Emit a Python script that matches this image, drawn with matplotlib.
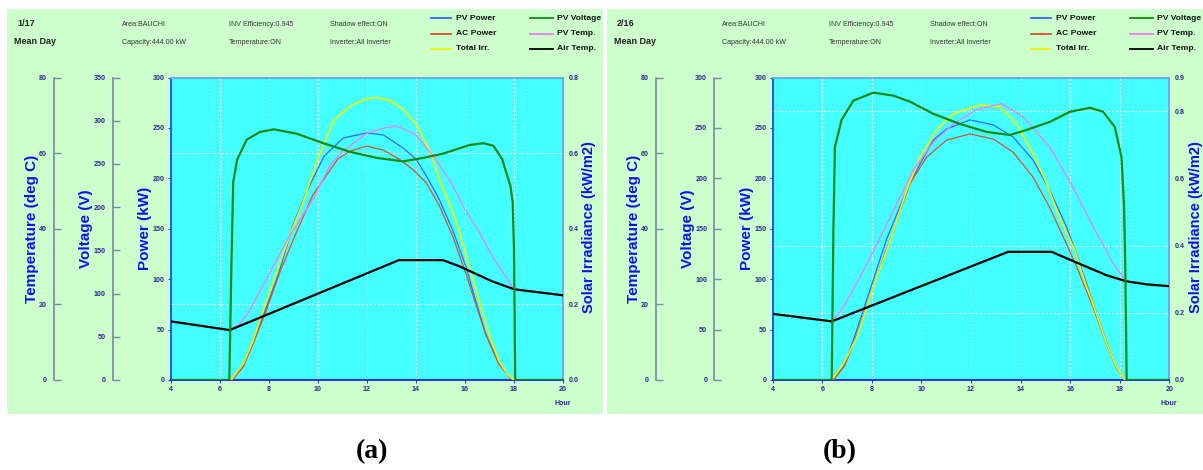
import numpy as np
import matplotlib
matplotlib.use('Agg')
import matplotlib.pyplot as plt
from matplotlib import font_manager as fm
from matplotlib.patches import Rectangle
from matplotlib.lines import Line2D

# ---------------- data ----------------
series_names = ["PV Power", "AC Power", "Total Irr.", "PV Voltage", "PV Temp.", "Air Temp."]
x_ticks = [4, 6, 8, 10, 12, 14, 16, 18, 20]

# panel (a) 1/17
date_a = "1/17"
hours_pv_a = [6.45, 6.95, 7.35, 7.8, 8.4, 8.97, 9.5, 10.25, 11.03, 11.99, 12.67, 13.48, 14.0, 14.41, 14.95, 15.49, 16.03, 16.43, 16.84, 17.38, 17.92]
pv_power_a = [0, 14, 37, 66, 106, 153, 185, 222, 240, 245, 243, 230, 219, 203, 179, 149, 113, 79, 46, 16, 0]
hours_ac_a = [6.5, 6.95, 7.35, 7.89, 8.43, 9.11, 9.78, 10.8, 11.31, 11.99, 12.67, 13.32, 13.86, 14.41, 14.95, 15.49, 16.03, 16.43, 16.84, 17.38, 17.92]
ac_power_a = [0, 13, 36, 69, 106, 146, 183, 219, 227, 232, 228, 219, 209, 196, 173, 143, 106, 76, 46, 16, 0]
hours_irr_a = [6.45, 6.95, 7.35, 7.76, 8.30, 8.84, 9.38, 9.99, 10.63, 11.31, 11.99, 12.39, 12.94, 13.48, 14.03, 14.6, 14.95, 15.35, 15.76, 16.16, 16.57, 16.97, 17.38, 17.72, 17.99]
irr_a = [0, 0.043, 0.104, 0.184, 0.283, 0.381, 0.469, 0.584, 0.685, 0.725, 0.744, 0.747, 0.739, 0.715, 0.675, 0.60, 0.531, 0.469, 0.395, 0.301, 0.211, 0.123, 0.051, 0.016, 0]
hours_volt_a = [4.0, 6.38, 6.47, 6.54, 6.7, 7.09, 7.63, 8.2, 9.13, 10.22, 11.31, 12.39, 13.48, 14.3, 15.12, 16.2, 16.75, 17.16, 17.51, 17.85, 17.95, 18.0, 18.05, 20.0]
volt_a = [0, 0, 139, 229, 255, 278, 287, 290, 285, 274, 264, 257, 253, 257, 262, 272, 274, 271, 256, 225, 205, 150, 0, 0]
hours_pvt_a = [6.4, 6.81, 7.22, 8.03, 8.84, 9.78, 10.5, 11.0, 12.0, 12.6, 13.2, 14.0, 14.8, 15.5, 16.0, 16.6, 17.1, 17.65, 18.0]
pv_temp_a = [13.2, 14.9, 18.4, 28.3, 38.1, 47.7, 56.8, 60.5, 65.3, 66.5, 67.2, 64.8, 58.4, 51.5, 45.1, 38.9, 32.8, 27.5, 24.0]
hours_air_a = [4.0, 6.4, 13.3, 15.1, 15.76, 17.11, 18.0, 19.0, 20.0]
air_temp_a = [15.5, 13.2, 31.7, 31.7, 30.1, 26.1, 24.0, 23.2, 22.4]

# panel (b) 2/16
date_b = "2/16"
hours_pv_b = [6.45, 6.9, 7.4, 7.8, 8.2, 8.6, 9.4, 9.94, 10.48, 11.02, 11.96, 12.9, 13.7, 14.51, 15.18, 15.85, 16.3, 16.93, 17.47, 17.87, 18.2]
pv_power_b = [0, 15, 50, 80, 110, 140, 188, 214, 238, 249, 258, 253, 241, 218, 188, 152, 122, 76, 37, 13, 0]
hours_ac_b = [6.45, 6.9, 7.4, 7.8, 8.2, 8.6, 9.54, 10.21, 11.02, 11.96, 12.9, 13.7, 14.51, 15.18, 15.85, 16.3, 16.93, 17.47, 17.87, 18.2]
ac_power_b = [0, 14, 45, 74, 103, 130, 195, 221, 238, 244, 239, 226, 201, 171, 135, 110, 72, 35, 12, 0]
hours_irr_b = [6.38, 6.85, 7.39, 7.79, 8.19, 8.60, 9.40, 9.94, 10.61, 11.28, 12.36, 13.17, 13.84, 14.51, 15.05, 15.59, 16.2, 16.6, 16.93, 17.47, 17.87, 18.21]
irr_b = [0, 0.048, 0.126, 0.216, 0.306, 0.384, 0.564, 0.663, 0.744, 0.792, 0.819, 0.813, 0.762, 0.672, 0.585, 0.48, 0.384, 0.29, 0.225, 0.108, 0.039, 0]
hours_volt_b = [4.0, 6.38, 6.45, 6.51, 6.78, 7.25, 8.06, 8.87, 9.54, 10.48, 11.55, 12.63, 13.57, 14.24, 15.18, 15.99, 16.8, 17.33, 17.8, 18.07, 18.17, 18.22, 18.28, 20.0]
volt_b = [0, 0, 150, 231, 258, 277, 285, 282, 276, 264, 254, 246, 243, 248, 256, 266, 270, 266, 251, 221, 175, 120, 0, 0]
hours_pvt_b = [6.38, 6.85, 7.52, 8.06, 8.87, 9.67, 10.48, 11.28, 12.23, 13.23, 14.11, 15.18, 16.12, 16.93, 17.47, 17.74, 18.25]
pv_temp_b = [15.5, 19.2, 27.2, 34.1, 44.8, 55.5, 62.9, 67.7, 71.5, 73.1, 69.6, 61.6, 50.9, 40.5, 34.1, 30.7, 26.2]
hours_air_b = [4.0, 6.38, 13.5, 15.25, 16.39, 17.47, 18.27, 19.08, 20.0]
air_temp_b = [17.5, 15.5, 33.9, 33.9, 30.7, 27.7, 26.1, 25.3, 24.8]

info_row1 = ["Area:BAUCHI", "INV Efficiency:0.945", "Shadow effect:ON"]
info_row2 = ["Capacity:444.00 kW", "Temperature:ON", "Inverter:All Inverter"]

# ---------------- style ----------------
names = {f.name for f in fm.fontManager.ttflist}
NARROW = 'Liberation Sans Narrow' if 'Liberation Sans Narrow' in names else 'Liberation Sans'
NSCALE = 1.0 if NARROW == 'Liberation Sans Narrow' else 0.85
BOLD = 'Liberation Sans'
SERIF = 'Liberation Serif'

colors = {"PV Power": "#3366ff", "AC Power": "#d85030", "Total Irr.": "#f2f200",
          "PV Voltage": "#138a13", "PV Temp.": "#f07cf0", "Air Temp.": "#000000"}
lws = {"PV Power": 0.9, "AC Power": 0.9, "Total Irr.": 1.2,
       "PV Voltage": 1.6, "PV Temp.": 0.9, "Air Temp.": 1.6}
TICKC = '#2a2a8a'
LABC = '#1010ee'
SPC = '#7a86a8'

W, H = 1203, 470
fig = plt.figure(figsize=(W / 100, H / 100), dpi=100)
fig.patch.set_facecolor('white')


def fx(px):
    return px / W


def fy(py):
    return 1 - py / H


def tickfont(t):
    t.set_fontfamily(NARROW)
    t.set_fontweight('bold')
    t.set_fontsize(6.0 * NSCALE)
    t.set_color(TICKC)


def make_panel(ox, bg_right, L, R, date, volt_max, volt_ticks, irr_max, irr_ticks,
               hp, pp, ha, pa, hi, ii, hv, vv, ht, tt, hair, air):
    # green background
    fig.add_artist(Rectangle((fx(ox + 7), fy(414)), (bg_right - ox - 7) / W, (414 - 8.5) / H,
                             transform=fig.transFigure, facecolor='#ccffcc',
                             edgecolor='none', zorder=-10))
    T, B = 77.5, 380
    ax = fig.add_axes([fx(L), fy(B), (R - L) / W, (B - T) / H])
    ax.set_facecolor('#44ffff')
    ax.set_xlim(4, 20)
    ax.set_ylim(0, 300)
    ax.set_xticks(x_ticks)
    ax.set_yticks(np.arange(0, 301, 50))
    for s, c in (('left', '#2244ee'), ('bottom', '#1122ff'), ('top', '#6aa0ff'), ('right', '#6aa0ff')):
        ax.spines[s].set_color(c)
        ax.spines[s].set_linewidth(1.3)
    ax.tick_params(axis='both', direction='out', length=2.5, width=0.8, color='#3344aa', pad=2)
    for t in ax.get_xticklabels() + ax.get_yticklabels():
        tickfont(t)
    # grid
    for h in x_ticks[1:-1]:
        ax.axvline(h, color='white', lw=0.7, ls=(0, (2, 2)), zorder=0.5)
    ax.set_yticks([v * 300 / irr_max for v in irr_ticks if 0 < v < irr_max], minor=True)
    ax.tick_params(axis='y', which='minor', length=0)
    ax.grid(True, which='minor', axis='y', color='white', lw=0.7, ls=(0, (2, 2)))
    ax.text(20, -0.078, "Hour", transform=ax.get_xaxis_transform(), ha='center', va='center',
            fontfamily=NARROW, fontweight='bold', fontsize=6.0 * NSCALE, color=TICKC)

    # irradiance (right)
    ax_i = ax.twinx()
    ax_i.set_ylim(0, irr_max)
    ax_i.set_yticks(irr_ticks)
    ax_i.set_yticklabels([f"{v:.1f}" for v in irr_ticks])
    for s in ('left', 'top', 'bottom', 'right'):
        ax_i.spines[s].set_visible(False)
    ax_i.tick_params(axis='y', direction='out', length=0, pad=4)
    for t in ax_i.get_yticklabels():
        tickfont(t)

    # temperature (far left)
    ax_t = ax.twinx()
    ax_t.set_ylim(0, 80)
    ax_t.set_yticks([0, 20, 40, 60, 80])
    ax_t.spines['left'].set_visible(True)
    ax_t.spines['left'].set_position(('axes', -117 / (R - L)))
    ax_t.spines['left'].set_color(SPC)
    ax_t.spines['left'].set_linewidth(1.2)
    for s in ('top', 'bottom', 'right'):
        ax_t.spines[s].set_visible(False)
    ax_t.yaxis.set_ticks_position('left')
    ax_t.tick_params(axis='y', direction='in', length=5, width=1.0, color=SPC, pad=5)
    for t in ax_t.get_yticklabels():
        tickfont(t)

    # voltage
    ax_v = ax.twinx()
    ax_v.set_ylim(0, volt_max)
    ax_v.set_yticks(volt_ticks)
    ax_v.spines['left'].set_visible(True)
    ax_v.spines['left'].set_position(('axes', -58.5 / (R - L)))
    ax_v.spines['left'].set_color(SPC)
    ax_v.spines['left'].set_linewidth(1.2)
    for s in ('top', 'bottom', 'right'):
        ax_v.spines[s].set_visible(False)
    ax_v.yaxis.set_ticks_position('left')
    ax_v.tick_params(axis='y', direction='in', length=5, width=1.0, color=SPC, pad=5)
    for t in ax_v.get_yticklabels():
        tickfont(t)

    # curves
    ax.plot(hp, pp, color=colors["PV Power"], lw=lws["PV Power"], zorder=3)
    ax.plot(ha, pa, color=colors["AC Power"], lw=lws["AC Power"], zorder=3)
    ax_i.plot(hi, ii, color=colors["Total Irr."], lw=lws["Total Irr."], zorder=3)
    ax_t.plot(ht, tt, color=colors["PV Temp."], lw=lws["PV Temp."], zorder=3)
    ax_t.plot(hair, air, color=colors["Air Temp."], lw=lws["Air Temp."], zorder=4)
    ax_v.plot(hv, vv, color=colors["PV Voltage"], lw=lws["PV Voltage"], zorder=4)

    # axis titles
    lab = dict(rotation=90, ha='center', va='center', fontfamily=BOLD, fontweight='bold',
               fontsize=11, color=LABC)
    yc = fy((T + B) / 2)
    fig.text(fx(L - 139), yc, "Temperature (deg C)", **lab)
    fig.text(fx(L - 85), yc, "Voltage (V)", **lab)
    fig.text(fx(L - 26), yc, "Power (kW)", **lab)
    lab_r = dict(lab)
    lab_r['fontsize'] = 10.5
    fig.text(fx(R + 26.5), fy(227), "Solar Irradiance (kW/m2)", **lab_r)

    # header
    hb = dict(fontfamily=NARROW, fontweight='bold', fontsize=7.6 * NSCALE, color='#222222',
              ha='left', va='center')
    fig.text(fx(ox + 17), fy(24), date, **hb)
    fig.text(fx(ox + 14), fy(42), "Mean Day", **hb)
    hs = dict(fontfamily=NARROW, fontsize=6.0 * NSCALE, color='#333333', ha='left', va='center')
    for xo, s1, s2 in zip((122, 229, 330), info_row1, info_row2):
        fig.text(fx(ox + xo), fy(24), s1, **hs)
        fig.text(fx(ox + xo), fy(42), s2, **hs)
    # legend
    rows = (18, 33.5, 49)
    cols = ((431, 451, 456), (530, 553, 557))
    for i, name in enumerate(series_names):
        c = cols[i // 3]
        y = rows[i % 3]
        fig.add_artist(Line2D([fx(ox + c[0]), fx(ox + c[1])], [fy(y), fy(y)], transform=fig.transFigure,
                              color=colors[name], lw=1.3))
        fig.text(fx(ox + c[2]), fy(y), name, fontfamily=NARROW, fontweight='bold',
                 fontsize=7.2 * NSCALE, color='#111111', ha='left', va='center')


make_panel(0, 603, 171, 563, date_a, 350, list(range(0, 351, 50)), 0.8, [0.0, 0.2, 0.4, 0.6, 0.8],
           hours_pv_a, pv_power_a, hours_ac_a, ac_power_a, hours_irr_a, irr_a,
           hours_volt_a, volt_a, hours_pvt_a, pv_temp_a, hours_air_a, air_temp_a)
make_panel(600, 1203, 772.7, 1169.3, date_b, 300, list(range(0, 301, 50)), 0.9, [0.0, 0.2, 0.4, 0.6, 0.8, 0.9],
           hours_pv_b, pv_power_b, hours_ac_b, ac_power_b, hours_irr_b, irr_b,
           hours_volt_b, volt_b, hours_pvt_b, pv_temp_b, hours_air_b, air_temp_b)

cap = dict(fontfamily=SERIF, fontweight='bold', fontsize=20, color='black', ha='center', va='center')
fig.text(fx(372), fy(452), "(a)", **cap)
fig.text(fx(840), fy(452), "(b)", **cap)

fig.savefig('out.png', dpi=100, facecolor=fig.get_facecolor())
